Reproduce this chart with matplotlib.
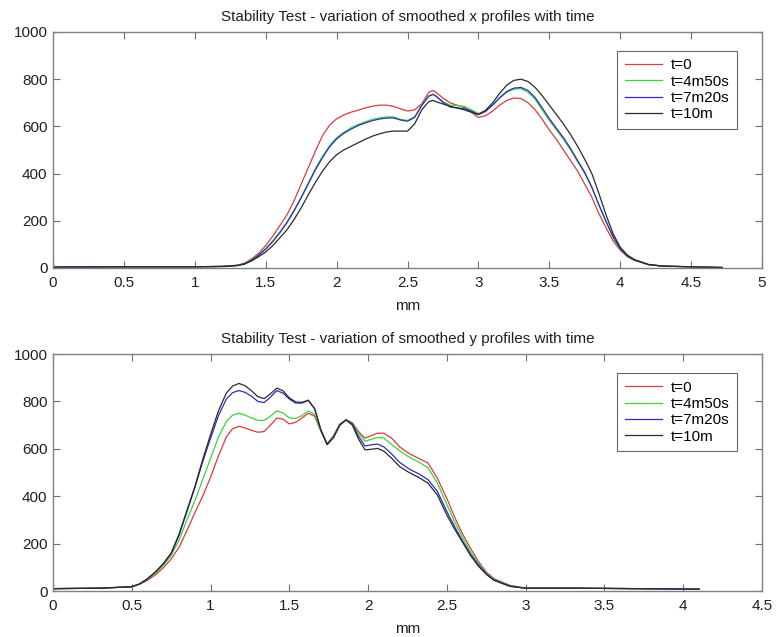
import numpy as np
import matplotlib
matplotlib.use('Agg')
import matplotlib.pyplot as plt

plt.rcParams['font.family'] = ['Liberation Sans', 'DejaVu Sans']

LABELS = ['t=0', 't=4m50s', 't=7m20s', 't=10m']
COLORS = ['#d83c3c', '#3cd23c', '#2c2cc0', '#2a2a2a']

# --- x profiles (top) ---
x_top = [0, 0.5, 1.0, 1.2, 1.3, 1.35, 1.4, 1.45, 1.5, 1.55, 1.6, 1.65, 1.7, 1.75,
         1.8, 1.85, 1.9, 1.95, 2.0, 2.05, 2.1, 2.15, 2.2, 2.25, 2.3, 2.35, 2.4,
         2.45, 2.5, 2.55, 2.6, 2.65, 2.68, 2.7, 2.75, 2.8, 2.85, 2.9, 2.95, 3.0,
         3.05, 3.1, 3.15, 3.2, 3.25, 3.3, 3.35, 3.4, 3.45, 3.5, 3.55, 3.6, 3.65,
         3.7, 3.75, 3.8, 3.85, 3.9, 3.95, 4.0, 4.05, 4.1, 4.2, 4.3, 4.5, 4.72]

x_t0 = [4, 5, 5, 7, 12, 20, 38, 62, 95, 135, 180, 225, 285, 355,
        425, 495, 560, 605, 632, 648, 660, 668, 678, 685, 690, 690, 685,
        675, 665, 670, 695, 745, 752, 745, 720, 700, 690, 680, 660, 638,
        645, 665, 690, 710, 720, 718, 700, 670, 630, 585, 545, 500, 455,
        410, 355, 300, 230, 170, 115, 75, 48, 32, 14, 8, 5, 2]
x_t1 = [4, 5, 5, 7, 11, 18, 34, 55, 82, 115, 152, 195, 245, 300,
        360, 420, 472, 518, 552, 575, 593, 608, 619, 629, 636, 640, 640,
        630, 625, 640, 690, 730, 737, 730, 705, 690, 688, 685, 670, 655,
        665, 690, 720, 745, 758, 760, 745, 715, 670, 625, 585, 545, 500,
        450, 400, 340, 265, 195, 130, 80, 50, 33, 14, 8, 5, 2]
x_t2 = [4, 5, 5, 7, 11, 18, 33, 54, 80, 112, 150, 192, 242, 297,
        356, 416, 467, 513, 547, 570, 588, 603, 614, 624, 631, 635, 636,
        627, 622, 638, 688, 728, 735, 728, 702, 682, 678, 675, 665, 650,
        663, 690, 722, 748, 762, 765, 752, 722, 678, 633, 592, 552, 506,
        455, 405, 342, 268, 198, 132, 82, 51, 34, 14, 8, 5, 2]
x_t3 = [4, 5, 5, 6, 10, 16, 30, 48, 68, 95, 128, 162, 205, 255,
        310, 362, 410, 450, 480, 500, 515, 530, 545, 558, 568, 576, 580,
        580, 580, 610, 670, 705, 710, 705, 695, 685, 678, 670, 660, 650,
        668, 700, 740, 775, 795, 800, 790, 765, 730, 690, 650, 610, 565,
        515, 460, 400, 315, 225, 145, 88, 55, 36, 15, 8, 5, 2]

# --- y profiles (bottom) ---
x_bot = [0, 0.3, 0.5, 0.55, 0.6, 0.65, 0.7, 0.75, 0.8, 0.85, 0.9, 0.95, 1.0,
         1.05, 1.1, 1.14, 1.18, 1.22, 1.26, 1.3, 1.34, 1.38, 1.42, 1.46, 1.5,
         1.54, 1.58, 1.62, 1.66, 1.7, 1.74, 1.78, 1.82, 1.86, 1.9, 1.94, 1.98,
         2.02, 2.06, 2.1, 2.15, 2.2, 2.26, 2.32, 2.38, 2.44, 2.5, 2.55, 2.6,
         2.65, 2.7, 2.75, 2.8, 2.9, 3.0, 3.3, 3.7, 4.1]

y_t0 = [10, 12, 18, 28, 45, 68, 98, 135, 185, 255, 330, 400, 480,
        570, 650, 685, 695, 688, 678, 670, 673, 700, 730, 725, 705,
        712, 730, 750, 738, 675, 622, 655, 705, 722, 710, 672, 645,
        656, 666, 666, 645, 608, 580, 560, 540, 475, 390, 310, 240,
        180, 125, 80, 52, 24, 12, 12, 10, 8]
y_t1 = [10, 12, 18, 30, 50, 75, 108, 150, 215, 300, 380, 470, 560,
        650, 715, 742, 750, 742, 730, 720, 720, 738, 760, 752, 730,
        728, 740, 760, 745, 675, 618, 650, 702, 722, 708, 665, 632,
        640, 648, 645, 618, 592, 565, 545, 520, 455, 365, 290, 225,
        165, 115, 75, 48, 22, 12, 12, 10, 8]
y_t2 = [10, 12, 18, 30, 52, 80, 115, 158, 235, 335, 435, 545, 645,
        740, 810, 837, 846, 838, 822, 800, 795, 818, 846, 835, 810,
        793, 793, 805, 770, 680, 618, 648, 700, 722, 705, 652, 612,
        617, 620, 608, 578, 543, 515, 495, 470, 420, 335, 270, 210,
        155, 110, 72, 45, 20, 12, 12, 10, 8]
y_t3 = [10, 12, 18, 30, 52, 80, 116, 160, 240, 340, 440, 555, 660,
        760, 835, 865, 876, 866, 845, 820, 812, 832, 856, 845, 815,
        798, 796, 805, 770, 680, 618, 648, 700, 722, 700, 640, 596,
        598, 602, 590, 560, 525, 500, 480, 455, 405, 320, 260, 205,
        150, 105, 70, 45, 20, 12, 12, 10, 8]


def style_axes(ax, xmax, xstep):
    ax.set_xlim(0, xmax)
    ax.set_ylim(0, 1000)
    ticks = np.arange(0, xmax + 1e-9, xstep)
    ax.set_xticks(ticks)
    ax.set_xticklabels([f'{v:g}' for v in ticks])
    ax.set_yticks([0, 200, 400, 600, 800, 1000])
    ax.tick_params(direction='in', top=True, right=True, length=5, width=0.8,
                   color='#707070', labelsize=11, labelcolor='#202020')
    ax.tick_params(axis='x', pad=6)
    ax.tick_params(axis='y', pad=4)
    for sp in ax.spines.values():
        sp.set_color('#808080')
        sp.set_linewidth(1.0)
    ax.set_xlabel('mm', fontsize=11, color='#202020', labelpad=6)
    leg = ax.legend(loc='upper right', bbox_to_anchor=(0.965, 0.92), fontsize=11,
                    frameon=True, fancybox=False, borderaxespad=0,
                    handlelength=2.4, handletextpad=0.6, labelspacing=0.15,
                    borderpad=0.5)
    leg.get_frame().set_edgecolor('#404040')
    leg.get_frame().set_linewidth(0.8)


fig = plt.figure(figsize=(7.76, 6.37), dpi=100)
ax1 = fig.add_axes([0.0683, 0.5793, 0.9137, 0.3705])
ax2 = fig.add_axes([0.0683, 0.0722, 0.9137, 0.372])

for ys, lab, col in zip([x_t0, x_t1, x_t2, x_t3], LABELS, COLORS):
    ax1.plot(x_top, ys, color=col, lw=0.9, label=lab)
ax1.set_title('Stability Test - variation of smoothed x profiles with time',
              fontsize=11, color='#202020', pad=8)
style_axes(ax1, 5, 0.5)

for ys, lab, col in zip([y_t0, y_t1, y_t2, y_t3], LABELS, COLORS):
    ax2.plot(x_bot, ys, color=col, lw=0.9, label=lab)
ax2.set_title('Stability Test - variation of smoothed y profiles with time',
              fontsize=11, color='#202020', pad=8)
style_axes(ax2, 4.5, 0.5)

fig.savefig('out.png', dpi=100)
